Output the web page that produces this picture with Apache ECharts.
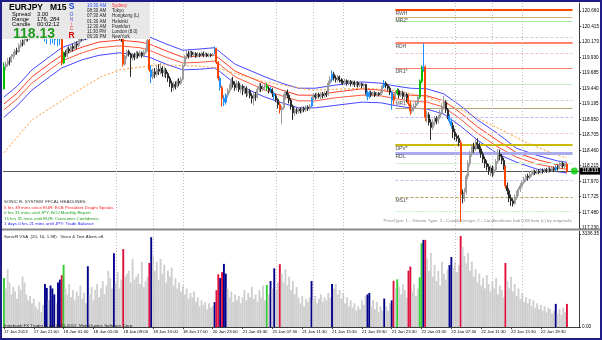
<!DOCTYPE html>
<html><head><meta charset="utf-8">
<script src="https://cdn.jsdelivr.net/npm/echarts@6.0.0/dist/echarts.min.js"></script>
<style>html,body{margin:0;padding:0;background:#fff;}#c{width:602px;height:340px;}</style>
</head><body><div id="c"></div>
<script>
// ---------- DATA ----------
const barCount = 309;
const xTickLabels = ['17 Jan 2013','17 Jan 21:00','18 Jan 01:00','18 Jan 05:00','18 Jan 09:00','18 Jan 13:00','18 Jan 17:00','20 Jan 23:00','21 Jan 03:30','21 Jan 07:30','21 Jan 11:30','21 Jan 15:30','21 Jan 19:30','21 Jan 23:30','22 Jan 03:30','22 Jan 07:30','22 Jan 11:30','22 Jan 15:30','22 Jan 19:30'];
const priceTicks = [120.660,120.415,120.170,119.930,119.685,119.440,119.195,118.950,118.705,118.460,118.215,117.970,117.725,117.480,117.230];
const volumeTicks = [0, 3136.35];
const lastPrice = 118.131;
// [open, close, low, high]
const ohlc = [
[119.43,119.78,119.42,119.85],[119.78,119.82,119.72,119.86],[119.82,119.87,119.78,119.92],[119.87,119.86,119.80,119.93],[119.86,119.94,119.84,119.98],
[119.94,119.97,119.90,120.02],[119.97,120.03,119.94,120.06],[120.03,120.02,119.97,120.08],[120.02,120.11,120.00,120.15],[120.11,120.16,120.08,120.20],
[120.16,120.14,120.10,120.21],[120.14,120.20,120.12,120.24],[120.20,120.25,120.17,120.28],[120.25,120.22,120.18,120.29],[120.22,120.28,120.20,120.32],
[120.28,120.31,120.25,120.35],[120.31,120.27,120.23,120.34],[120.27,120.33,120.25,120.37],[120.33,120.36,120.30,120.40],[120.36,120.32,120.28,120.39],
[120.32,120.35,120.27,120.38],[120.35,120.38,120.31,120.42],[120.38,120.34,120.18,120.41],[120.34,120.29,120.14,120.36],[120.29,120.31,120.22,120.35],
[120.31,120.24,120.13,120.33],[120.24,120.30,120.15,120.32],[120.30,120.26,120.12,120.33],[120.26,120.28,120.20,120.31],[120.28,120.22,120.10,120.30],
[120.22,120.27,120.12,120.31],[120.27,119.84,119.80,120.29],[119.84,120.00,119.82,120.02],[120.00,119.96,119.93,120.04],[119.96,120.06,119.93,120.09],
[120.06,120.03,119.99,120.10],[120.03,120.10,120.00,120.13],[120.10,120.07,120.02,120.14],[120.07,120.14,120.04,120.18],[120.14,120.12,120.06,120.18],
[120.12,120.19,120.09,120.23],[120.19,120.24,120.16,120.27],[120.24,120.22,120.18,120.27],[120.22,120.27,120.19,120.30],[120.27,120.25,120.20,120.29],
[120.25,120.33,120.21,120.36],[120.33,120.30,120.26,120.35],[120.30,120.34,120.27,120.37],[120.34,120.31,120.27,120.36],[120.31,120.35,120.28,120.38],
[120.35,120.33,120.29,120.37],[120.33,120.37,120.30,120.40],[120.37,120.34,120.31,120.39],[120.34,120.31,120.27,120.37],[120.31,120.35,120.29,120.38],
[120.35,120.32,120.28,120.37],[120.32,120.36,120.30,120.39],[120.36,120.33,120.29,120.38],[120.33,120.30,120.26,120.36],[120.30,120.32,120.25,120.35],
[120.32,120.27,120.22,120.34],[120.27,120.29,120.23,120.32],[120.29,120.25,120.20,120.31],[120.25,120.22,120.17,120.28],[120.22,119.82,119.78,120.24],
[119.82,119.95,119.80,119.97],[119.95,120.02,119.90,120.05],[120.02,119.98,119.94,120.05],[119.98,119.92,119.62,120.00],[119.92,119.97,119.88,120.00],
[119.97,119.93,119.88,120.00],[119.93,119.99,119.90,120.03],[119.99,119.95,119.91,120.02],[119.95,120.00,119.93,120.04],[120.00,119.96,119.92,120.02],
[119.96,120.01,119.93,120.04],[120.01,120.05,119.98,120.08],[120.05,120.20,120.02,120.24],[120.20,119.73,119.70,120.25],[119.73,119.62,119.52,119.80],
[119.62,119.70,119.58,119.75],[119.70,119.66,119.60,119.76],[119.66,119.74,119.62,119.80],[119.74,119.71,119.65,119.82],[119.71,119.76,119.66,119.84],
[119.76,119.68,119.62,119.79],[119.68,119.73,119.62,119.78],[119.73,119.67,119.60,119.76],[119.67,119.60,119.54,119.70],[119.60,119.52,119.46,119.63],
[119.52,119.45,119.38,119.56],[119.45,119.50,119.40,119.54],[119.50,119.47,119.42,119.55],[119.47,119.55,119.44,119.58],[119.55,119.52,119.47,119.60],
[119.52,119.58,119.49,119.62],[119.58,119.80,119.56,119.83],[119.80,119.93,119.78,119.96],[119.93,119.98,119.90,120.03],[119.98,119.95,119.91,120.03],
[119.95,120.01,119.93,120.04],[120.01,119.97,119.93,120.03],[119.97,119.99,119.94,120.02],[119.99,119.95,119.92,120.01],[119.95,119.98,119.93,120.01],
[119.98,119.96,119.93,120.00],[119.96,119.99,119.94,120.02],[119.99,119.96,119.93,120.02],[119.96,119.98,119.94,120.01],[119.98,119.95,119.93,120.00],
[119.95,119.97,119.93,120.00],[119.97,119.96,119.93,119.99],[119.96,119.97,119.94,120.00],[120.00,120.07,119.98,120.10],[120.07,119.85,119.82,120.08],
[119.85,119.60,119.56,119.87],[119.60,119.45,119.40,119.63],[119.45,119.28,119.15,119.48],[119.28,119.22,119.16,119.33],[119.22,119.33,119.18,119.36],
[119.33,119.40,119.29,119.44],[119.40,119.46,119.36,119.50],[119.46,119.55,119.42,119.60],[119.55,119.50,119.45,119.62],[119.50,119.45,119.40,119.55],
[119.45,119.52,119.41,119.57],[119.52,119.42,119.38,119.55],[119.42,119.47,119.36,119.50],[119.47,119.40,119.33,119.50],[119.40,119.44,119.35,119.48],
[119.44,119.36,119.30,119.47],[119.36,119.40,119.32,119.44],[119.40,119.32,119.28,119.43],[119.32,119.28,119.20,119.36],[119.28,119.34,119.17,119.37],
[119.34,119.30,119.24,119.38],[119.30,119.42,119.28,119.46],[119.42,119.47,119.38,119.52],[119.47,119.43,119.38,119.52],[119.43,119.46,119.39,119.50],
[119.46,119.48,119.41,119.51],[119.48,119.44,119.40,119.52],[119.44,119.40,119.36,119.47],[119.40,119.42,119.37,119.46],[119.42,119.36,119.30,119.44],
[119.36,119.32,119.26,119.39],[119.32,119.26,119.22,119.35],[119.26,119.18,119.12,119.28],[119.18,119.10,119.04,119.22],[119.10,119.13,118.87,119.16],
[119.13,119.30,119.10,119.35],[119.30,119.38,119.26,119.41],[119.38,119.33,119.28,119.42],[119.33,119.25,119.20,119.36],[119.25,119.15,119.10,119.28],
[119.15,119.05,118.94,119.18],[119.05,119.10,119.00,119.14],[119.10,119.07,119.03,119.13],[119.07,119.11,119.04,119.14],[119.11,119.08,119.04,119.14],
[119.08,119.12,119.05,119.15],[119.12,119.10,119.06,119.15],[119.10,119.14,119.07,119.17],[119.14,119.12,119.08,119.17],[119.12,119.16,119.09,119.19],
[119.16,119.27,119.14,119.30],[119.27,119.33,119.24,119.36],[119.33,119.30,119.26,119.36],[119.30,119.34,119.27,119.37],[119.34,119.31,119.28,119.37],
[119.31,119.35,119.27,119.38],[119.35,119.32,119.28,119.38],[119.32,119.36,119.29,119.39],[119.36,119.34,119.30,119.40],[119.34,119.52,119.32,119.56],
[119.52,119.58,119.48,119.63],[119.58,119.66,119.54,119.72],[119.66,119.60,119.56,119.70],[119.60,119.58,119.53,119.64],[119.58,119.62,119.54,119.65],
[119.62,119.57,119.53,119.64],[119.57,119.55,119.51,119.60],[119.55,119.53,119.49,119.58],[119.53,119.56,119.50,119.59],[119.56,119.52,119.48,119.58],
[119.52,119.55,119.49,119.57],[119.55,119.51,119.47,119.57],[119.51,119.54,119.48,119.56],[119.54,119.50,119.46,119.56],[119.50,119.53,119.47,119.55],
[119.53,119.49,119.45,119.55],[119.49,119.51,119.46,119.54],[119.51,119.48,119.44,119.53],[119.48,119.50,119.45,119.52],[119.50,119.38,119.34,119.51],
[119.38,119.31,119.25,119.40],[119.31,119.37,119.28,119.40],[119.37,119.34,119.30,119.40],[119.34,119.37,119.31,119.39],[119.37,119.33,119.30,119.39],
[119.33,119.36,119.31,119.38],[119.36,119.34,119.31,119.38],[119.34,119.38,119.32,119.40],[119.38,119.47,119.36,119.50],[119.47,119.52,119.44,119.57],
[119.52,119.48,119.44,119.55],[119.48,119.44,119.40,119.51],[119.44,119.38,119.33,119.47],[119.38,119.25,119.10,119.40],[119.25,119.32,119.18,119.35],
[119.32,119.36,119.28,119.40],[119.36,119.40,119.33,119.44],[119.40,119.33,119.28,119.43],[119.33,119.37,119.30,119.40],[119.37,119.31,119.27,119.40],
[119.31,119.34,119.25,119.38],[119.34,119.28,119.22,119.37],[119.28,119.20,119.16,119.33],[119.20,119.08,119.02,119.24],[119.08,119.12,119.04,119.18],
[119.12,119.16,119.07,119.20],[119.16,119.20,119.12,119.24],[119.20,119.30,119.17,119.33],[119.30,119.55,119.27,119.58],[119.55,119.75,119.52,119.80],
[119.75,119.78,119.70,120.15],[119.78,118.98,118.92,119.80],[118.98,119.02,118.90,119.08],[119.02,118.90,118.85,119.06],[118.90,118.82,118.62,118.95],
[118.82,118.90,118.78,118.95],[118.90,118.96,118.85,119.00],[118.96,118.92,118.87,119.00],[118.92,118.98,118.88,119.02],[118.98,119.05,118.95,119.10],
[119.05,119.15,119.02,119.20],[119.15,119.22,119.10,119.32],[119.22,119.10,119.05,119.25],[119.10,119.00,118.95,119.13],[119.00,118.92,118.88,119.03],
[118.92,118.85,118.80,118.96],[118.85,118.75,118.65,118.90],[118.75,118.68,118.62,118.80],[118.68,118.65,118.60,118.72],[118.65,118.58,118.52,118.70],
[118.58,117.76,117.33,118.62],[117.76,117.70,117.62,117.84],[117.70,117.80,117.65,117.86],[117.80,118.05,117.76,118.08],[118.05,118.25,118.00,118.30],
[118.25,118.40,118.20,118.45],[118.40,118.52,118.36,118.56],[118.52,118.48,118.42,118.58],[118.48,118.58,118.45,118.63],[118.58,118.55,118.48,118.65],
[118.55,118.48,118.42,118.58],[118.48,118.40,118.34,118.52],[118.40,118.32,118.26,118.44],[118.32,118.25,118.18,118.36],[118.25,118.20,118.14,118.30],
[118.20,118.14,118.07,118.24],[118.14,118.18,118.05,118.22],[118.18,118.10,118.04,118.22],[118.10,118.15,118.06,118.20],[118.15,118.28,118.12,118.32],
[118.28,118.40,118.25,118.48],[118.40,118.36,118.30,118.47],[118.36,118.30,118.24,118.40],[118.30,118.20,118.15,118.34],[118.20,117.90,117.85,118.22],
[117.90,117.82,117.76,117.95],[117.82,117.70,117.64,117.86],[117.70,117.66,117.58,117.76],[117.66,117.62,117.57,117.70],[117.62,117.72,117.60,117.76],
[117.72,117.78,117.68,117.82],[117.78,117.84,117.74,117.88],[117.84,117.90,117.80,117.94],[117.90,117.95,117.86,117.98],[117.95,118.00,117.92,118.04],
[118.00,118.05,117.96,118.08],[118.05,118.03,117.98,118.09],[118.03,118.08,118.00,118.12],[118.08,118.10,118.04,118.14],[118.10,118.12,118.06,118.16],
[118.12,118.10,118.07,118.15],[118.10,118.13,118.08,118.17],[118.13,118.11,118.08,118.16],[118.11,118.14,118.09,118.18],[118.14,118.12,118.09,118.17],
[118.12,118.15,118.10,118.18],[118.15,118.13,118.10,118.18],[118.13,118.16,118.11,118.19],[118.16,118.14,118.11,118.19],[118.14,118.17,118.12,118.20],
[118.17,118.15,118.12,118.20],[118.15,118.19,118.13,118.22],[118.19,118.18,118.14,118.23],[118.18,118.22,118.16,118.27],[118.22,118.25,118.19,118.30],
[118.25,118.21,118.17,118.28],[118.21,118.24,118.18,118.27],[118.24,118.13,118.10,118.26]
];
const volume = [
1650,1300,1950,1500,1100,1350,1200,950,1400,1250, 1700,1500,1100,900,1050,800,950,700,600,850,
500,750,1450,1320,900,1400,1300,1100,800,1500, 1600,1750,2100,1300,1100,1450,1000,1250,900,1200,
1050,1400,950,1150,800,2050,1100,1350,900,1250, 1450,1000,1300,1550,1100,1400,1900,1650,1300,2490,
1500,1850,1300,1600,2630,1700,1800,1900,1500,2300, 1600,1700,1800,1450,2200,1350,1550,1700,2160,3030,
2400,1900,2200,1600,2300,1800,2100,1500,1900,1700, 2000,1400,1650,1300,1500,1200,1400,1100,1300,950,
1150,1000,1200,850,1000,700,900,750,850,600, 800,650,700,840,1240,1780,1650,1850,2130,1800,
1300,1000,1200,850,1100,900,1050,800,1000,1250, 900,1150,1000,1350,950,1100,850,1250,1000,1400,
900,1420,1100,1550,1300,1980,1250,1500,2120,1800, 1500,1950,1400,1700,1250,1550,1100,1350,1000,800,
1050,700,950,850,1000,1550,900,1050,800,950, 1100,850,1000,900,1150,1000,1450,1300,1450,1100,
1250,950,1150,800,1000,700,900,650,800,550, 700,600,900,750,1050,1100,1150,700,900,600,
850,500,700,550,960,700,550,800,900,1560, 1300,1610,1350,1100,1450,1250,1000,1900,2040,1200,
1450,1050,1300,1680,2830,2940,2940,2300,1900,2500, 1700,2100,1550,1900,1400,2200,1800,1600,1950,2090,
2360,2000,2200,1850,2100,3070,2700,2400,2150,2500, 1900,2200,1700,1950,1500,1800,1400,1650,1300,1750,
1450,1200,1550,1300,1650,1100,1400,1250,1000,2160, 1550,1300,1700,1200,1450,1050,1300,950,1150,850,
1000,800,950,700,900,650,800,600,750,550, 700,500,650,600,450,550,780,450,600,400,
650,500,780
];
const greenBars = [0,32,141,211,223,224];
const navyBars = [22,23,25,26,27,29,30,45,59,79,113,116,118,119,143,145,165,176,195,196,204,208,225,239,240,296];
const redBars = [31,64,78,114,115,117,148,209,217,218,226,245,269,302];
// Sonic R dragon (EMA34 high / close / low) and trend EMA89: [bar, price]
const dragonHigh = [[0,119.30],[7,119.47],[15,119.73],[25,119.95],[31,120.08],[42,120.20],[51,120.28],[62,120.31],[73,120.28],[78,120.25],[87,120.14],[96,120.04],[105,120.06],[113,120.08],[116,120.01],[124,119.82],[140,119.62],[149,119.52],[158,119.44],[167,119.44],[178,119.49],[192,119.54],[202,119.52],[211,119.47],[218,119.44],[227,119.43],[236,119.35],[245,119.16],[254,118.94],[265,118.72],[275,118.49],[286,118.38],[297,118.29],[302,118.27]];
const dragonUpperClose = [[0,119.19],[7,119.36],[15,119.62],[25,119.84],[31,119.96],[42,120.09],[51,120.17],[62,120.20],[73,120.17],[78,120.14],[87,120.03],[96,119.93],[105,119.95],[113,119.96],[116,119.90],[124,119.71],[140,119.51],[149,119.41],[158,119.33],[167,119.33],[178,119.38],[192,119.43],[202,119.41],[211,119.36],[218,119.33],[227,119.32],[236,119.24],[245,119.05],[254,118.83],[265,118.61],[275,118.42],[286,118.31],[297,118.23],[302,118.21]];
const dragonLowerClose = [[0,119.10],[7,119.27],[15,119.52],[25,119.74],[31,119.87],[42,120.00],[51,120.08],[62,120.11],[73,120.08],[78,120.04],[87,119.93],[96,119.84],[105,119.85],[113,119.87],[116,119.81],[124,119.62],[140,119.41],[149,119.32],[158,119.24],[167,119.24],[178,119.29],[192,119.33],[202,119.32],[211,119.27],[218,119.24],[227,119.22],[236,119.14],[245,118.95],[254,118.73],[265,118.51],[275,118.35],[286,118.24],[297,118.18],[302,118.16]];
const dragonLow = [[0,118.98],[7,119.16],[15,119.41],[25,119.63],[31,119.76],[42,119.89],[51,119.96],[62,120.00],[73,119.96],[78,119.93],[87,119.82],[96,119.73],[105,119.74],[113,119.76],[116,119.70],[124,119.51],[140,119.30],[149,119.21],[158,119.13],[167,119.13],[178,119.17],[192,119.22],[202,119.21],[211,119.16],[218,119.13],[227,119.11],[236,119.03],[245,118.84],[254,118.62],[265,118.40],[275,118.27],[286,118.16],[297,118.12],[302,118.10]];
const trendEma = [[0,118.42],[15,118.94],[34,119.30],[52,119.62],[62,119.73],[83,119.81],[105,119.79],[114,119.76],[140,119.54],[165,119.41],[194,119.44],[211,119.40],[227,119.30],[245,119.10],[265,118.81],[281,118.57],[298,118.37],[302,118.34]];
// pivot levels (start bar 210)
const pivotNames  = ['RWH','MR2*','','','RDH','','DR1*','','MR1*','','','','DPV*','RDL','','','MS1*',''];
const pivotValues = [120.676,120.565,120.502,120.249,120.154,119.996,119.759,119.506,119.253,119.127,118.985,118.731,118.540,118.410,118.260,117.989,117.720,117.490];
const sessionBars  = [60,80,96,146,166,182,242,262,278];
const sessionNames = ['Lo','Ny','Lo','Lo','Ny','Lo','Lo','Ny','Lo'];
const infoRows = [['Spread','3.00'],['Range','176, 284'],['Candle','00:02:12']];
const clockRows = [['10:30 AM','Sydney'],['08:30 AM','Tokyo'],['07:30 AM','Hongkong (L)'],['01:30 AM','Helsinki'],['12:30 AM','Frankfurt'],['11:30 PM','London (8.0)'],['06:30 PM','NewYork']];
const headlines = ['SONIC R. SYSTEM  FFCAL HEADLINES:','5 hrs 39 mins since EUR: ECB President Draghi Speaks','0 hrs 31 mins until JPY: BOJ Monthly Report','15 hrs 31 mins until EUR: Consumer Confidence','1 days 0 hrs 21 mins until JPY: Trade Balance'];

// ---------- STYLE ----------
const FONT = '"Liberation Sans", Arial, sans-serif';
const pivotStyles = [
 {color:'#ff4500',width:2,type:'solid'},{color:'#c8b47c',width:1,type:'solid'},{color:'#a8eca8',width:1,type:'solid'},
 {color:'#d0d0d0',width:1,type:[3,2]},{color:'#ff5a3c',width:1.5,type:'solid'},{color:'#f2c4c4',width:1,type:[3,2]},
 {color:'#f47c6c',width:1,type:'solid'},{color:'#c8f0c8',width:1,type:'solid'},{color:'#d0d0d0',width:1,type:[3,2]},
 {color:'#b4a478',width:1,type:'solid'},{color:'#b8b8f4',width:1,type:[3,2]},{color:'#f2c8c8',width:1,type:[3,2]},
 {color:'#ccb800',width:2,type:'solid'},{color:'#aaaaf0',width:3,type:'solid'},{color:'#d4f2d4',width:1,type:'solid'},
 {color:'#c0c0f2',width:1,type:[3,2]},{color:'#b4a060',width:1,type:[3,2]},{color:'#90e090',width:1,type:[1,2]}
];
const yMin = 117.215, yMax = 120.787;
const cats = Array.from({length: barCount}, (_, i) => 'b' + i);
const codeOf = i => greenBars.includes(i) ? 'g' : navyBars.includes(i) ? 'n' : redBars.includes(i) ? 'r' : '';
const candleHi = {g:'#00c000', n:'#1e90ff', r:'#ff4500'};
const volHi = {g:'#32cd32', n:'#00008b', r:'#e0103c'};
const candleData = ohlc.map((d, i) => {
  const c = codeOf(i); if (!c) return d;
  const col = candleHi[c];
  return {value: d, itemStyle: {color: col, color0: col, borderColor: col, borderColor0: col}};
});
const volData = volume.map((v, i) => { const c = codeOf(i); return {value: v, itemStyle: {color: c ? volHi[c] : '#cfcfcf'}}; });
const tickShow = i => i % 16 === 0 && i / 16 < xTickLabels.length;

const txt = (x, y, text, size, color, weight, align) => ({type:'text', x, y, z:120, silent:true,
  style:{text, fill:color, font:(weight||'normal') + ' ' + size + 'px ' + FONT, textAlign: align||'left', textVerticalAlign:'middle'}});

const graphics = [
  {type:'rect', z:110, silent:true, shape:{x:2, y:2, width:148, height:37}, style:{fill:'#e8e8e8'}},
  {type:'rect', z:110, silent:true, shape:{x:2, y:228.5, width:598, height:2}, style:{fill:'#8a8a8a'}},
  {type:'rect', z:130, silent:true, shape:{x:1, y:1, width:600, height:338}, style:{fill:null, stroke:'#1e1e86', lineWidth:2}},
  txt(9, 7.5, 'EURJPY', 8.5, '#000', 'bold'), txt(50, 7.5, 'M15', 8.5, '#000', 'bold'),
  txt(13, 34, '118.13', 14, '#1f9a1f', 'bold'),
  txt(71.5, 6.5, 'S', 8.5, '#2040d0', 'bold', 'center'), txt(71.5, 15, 'O', 5, '#3050e0', 'normal', 'center'),
  txt(71.5, 20, 'N', 5, '#7050d0', 'normal', 'center'), txt(71.5, 24.5, 'I', 5, '#e06090', 'normal', 'center'),
  txt(71.5, 28.5, 'C', 5, '#f03030', 'normal', 'center'), txt(71.5, 35.5, 'R', 8.5, '#e00000', 'bold', 'center')
];
infoRows.forEach((r, k) => { graphics.push(txt(12, 14.5 + k * 5, r[0], 5.8, '#000')); graphics.push(txt(37, 14.5 + k * 5, r[1], 5.8, '#000')); });
clockRows.forEach((r, k) => {
  const y = 6 + k * 5.1;
  graphics.push(txt(87, y, r[0], 4.5, k === 0 ? '#3050ff' : '#202020'));
  graphics.push(txt(112, y, r[1], 4.5, k === 0 ? '#ff3030' : '#202020'));
});
const headColors = ['#303030','#ff2020','#20a020','#20a020','#2020ff'];
const headY = [202, 207.8, 213.2, 218.6, 224];
headlines.forEach((h, k) => graphics.push(txt(4, headY[k], h, 4.4, headColors[k])));
graphics.push(txt(572, 221, 'PriceType: 1 - Volume Type: 2 - Candle Design: 2 - Candlevolume Indi 0.93 beta (c) by enigma4x', 4.4, '#8c8c8c', 'normal', 'right'));
graphics.push(txt(4, 236.5, 'SonicR VSA  (20, 10, 1.38)   Voice & Text Alerts off.', 4.4, '#202020'));
graphics.push(txt(4, 325.3, 'Interbank FX Trader 4, (c) 2001-2012, MetaQuotes Software Corp.', 4.4, '#202020'));

const pivotLines = pivotValues.map((v, k) => [
  {coord:[210, v], lineStyle: pivotStyles[k],
   label:{show: !!pivotNames[k], formatter: pivotNames[k], position:'insideStartBottom', distance:[0, 1], fontSize:5, color:'#4a4a4a', fontFamily: FONT}},
  {coord:[305, v]}
]);
const sessionLines = sessionBars.map(b => ({xAxis: b, lineStyle:{color:'#bdbdbd', type:[1,2], width:1}, label:{show:false}}));

const dragonLine = (name, data, color) => ({name, type:'line', xAxisIndex:0, yAxisIndex:0, data, symbol:'none', silent:true,
  lineStyle:{color, width:1}, z:4});

const option = {
  animation: false,
  backgroundColor: '#ffffff',
  textStyle: {fontFamily: FONT},
  grid: [
    {left:3, top:3, width:579, height:226},
    {left:3, top:231, width:579, height:96}
  ],
  xAxis: [
    {type:'category', gridIndex:0, data:cats, boundaryGap:true, axisLine:{show:false}, axisTick:{show:false}, axisLabel:{show:false}, splitLine:{show:false}},
    {type:'category', gridIndex:1, data:cats, boundaryGap:true,
     axisLine:{show:true, lineStyle:{color:'#3c3c3c', width:1}},
     axisTick:{show:true, interval:(i) => tickShow(i), alignWithLabel:true, length:2, lineStyle:{color:'#3c3c3c'}},
     axisLabel:{show:true, interval:(i) => tickShow(i), formatter:(v, i) => xTickLabels[i / 16], align:'left', margin:3, fontSize:4.3, color:'#000', fontFamily:FONT},
     splitLine:{show:false}}
  ],
  yAxis: [
    {type:'value', gridIndex:0, position:'right', min:yMin, max:yMax,
     axisLine:{show:true, lineStyle:{color:'#3c3c3c'}},
     axisTick:{show:true, length:2, customValues: priceTicks, lineStyle:{color:'#3c3c3c'}},
     axisLabel:{show:true, customValues: priceTicks, formatter:(v) => v.toFixed(3), fontSize:4.7, color:'#000', margin:3, fontFamily:FONT},
     splitLine:{show:false}},
    {type:'value', gridIndex:1, position:'right', min:0, max:3240,
     axisLine:{show:true, lineStyle:{color:'#3c3c3c'}},
     axisTick:{show:true, length:2, customValues: volumeTicks, lineStyle:{color:'#3c3c3c'}},
     axisLabel:{show:true, customValues: volumeTicks, formatter:(v) => v.toFixed(2), fontSize:4.7, color:'#000', margin:3, fontFamily:FONT},
     splitLine:{show:false}}
  ],
  series: [
    {name:'EURJPY', type:'candlestick', xAxisIndex:0, yAxisIndex:0, data:candleData, barWidth:1.5, z:5,
     itemStyle:{color:'#9c9c9c', color0:'#2a2a2a', borderColor:'#9c9c9c', borderColor0:'#2a2a2a', borderWidth:1},
     markLine:{silent:true, symbol:['none','none'], animation:false,
       data:[...pivotLines,
         {yAxis:lastPrice, lineStyle:{color:'#555555', width:1, type:'solid'},
          label:{show:true, position:'end', formatter:lastPrice.toFixed(3), backgroundColor:'#000', color:'#fff', fontSize:4.7, padding:[1,2,1,2], distance:1, fontFamily:FONT}},
         ...sessionLines]}},
    dragonLine('EMA34 High', dragonHigh, '#4646ff'),
    dragonLine('EMA34 Close+', dragonUpperClose, '#ff3c28'),
    dragonLine('EMA34 Close-', dragonLowerClose, '#ff5a3c'),
    dragonLine('EMA34 Low', dragonLow, '#4646ff'),
    {name:'EMA89', type:'line', xAxisIndex:0, yAxisIndex:0, data:trendEma, symbol:'none', silent:true, z:4,
     lineStyle:{color:'#ff9a30', width:1, type:[2,2]}},
    {name:'Sessions', type:'scatter', xAxisIndex:0, yAxisIndex:0, silent:true, symbolSize:1, itemStyle:{opacity:0},
     data: sessionBars.map((b, k) => ({value:[b, yMax - 0.045], name: sessionNames[k]})),
     label:{show:true, position:'right', distance:1, formatter:(p) => p.name, fontSize:4.6, color:'#000', fontFamily:FONT}},
    {name:'Last', type:'scatter', xAxisIndex:0, yAxisIndex:0, silent:true, symbolSize:7, z:8,
     itemStyle:{color:'#00cc00'}, data:[[306, lastPrice]]},
    {name:'Volume', type:'bar', xAxisIndex:1, yAxisIndex:1, data:volData, barWidth:1.9, silent:true,
     markLine:{silent:true, symbol:['none','none'], animation:false, data: sessionBars.map(b => ({xAxis:b, lineStyle:{color:'#bdbdbd', type:[1,2], width:1}, label:{show:false}}))}}
  ],
  graphic: graphics
};
const chart = echarts.init(document.getElementById('c'), null, {renderer:'canvas'});
chart.setOption(option);
</script>
</body></html>
